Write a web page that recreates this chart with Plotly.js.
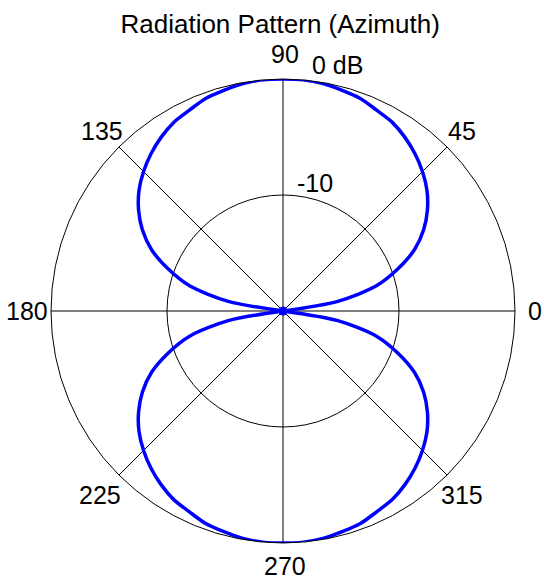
<!DOCTYPE html>
<html>
<head>
<meta charset="utf-8">
<script src="https://cdn.plot.ly/plotly-3.0.1.min.js"></script>
<style>html,body{margin:0;padding:0;background:#fff;}#chart{width:544px;height:582px;}</style>
</head>
<body>
<div id="chart"></div>
<script>
const angleDeg = [0,5,10,15,20,25,30,35,40,45,50,55,60,65,70,75,80,85,90,95,100,105,110,115,120,125,130,135,140,145,150,155,160,165,170,175,
  180,185,190,195,200,205,210,215,220,225,230,235,240,245,250,255,260,265,270,275,280,285,290,295,300,305,310,315,320,325,330,335,340,345,350,355,360];
const gainDb = [-20,-20,-15.2,-11.7,-9.5,-7.5,-6.0,-4.8,-3.8,-3.0,-2.3,-1.7,-1.2,-0.9,-0.5,-0.3,-0.1,0,0,0,-0.1,-0.3,-0.5,-0.9,-1.2,-1.7,-2.3,-3.0,-3.8,-4.8,-6.0,-7.5,-9.5,-11.7,-15.2,-20,
  -20,-20,-15.2,-11.7,-9.5,-7.5,-6.0,-4.8,-3.8,-3.0,-2.3,-1.7,-1.2,-0.9,-0.5,-0.3,-0.1,0,0,0,-0.1,-0.3,-0.5,-0.9,-1.2,-1.7,-2.3,-3.0,-3.8,-4.8,-6.0,-7.5,-9.5,-11.7,-15.2,-20,-20];
const angleTicks = [0,45,90,135,180,225,270,315];
const angleTickText = ['0','45','90','135','180','225','270','315'];
const radialTicks = [-10, 0];
const radialTickText = ['-10', '0 dB'];

// label placement (paper coordinates) – layout only
const angLabelPos = [[1.043,0.5],[0.886,0.888],[0.504,1.054],[0.110,0.888],[-0.052,0.5],[0.106,0.103],[0.504,-0.0496],[0.886,0.103]];
const radLabelPos = [[0.526,0.776],[0.558,1.030]];

const trace = {
  type: 'scatterpolar',
  mode: 'lines',
  theta: angleDeg,
  r: gainDb,
  line: {color: '#0000ff', width: 3.5, shape: 'spline', smoothing: 0.8},
  hoverinfo: 'skip'
};
const centreDot = {
  type: 'scatterpolar',
  mode: 'markers',
  theta: [0],
  r: [-20],
  marker: {color: '#0000ff', size: 9},
  hoverinfo: 'skip'
};

const FONT = 'Liberation Sans, Arial, sans-serif';
const annotations = [];
angleTickText.forEach((t, i) => annotations.push({
  text: t, xref: 'paper', yref: 'paper', x: angLabelPos[i][0], y: angLabelPos[i][1],
  xanchor: 'center', yanchor: 'middle', showarrow: false, font: {size: 25, color: '#000'}
}));
radialTickText.forEach((t, i) => annotations.push({
  text: t, xref: 'paper', yref: 'paper', x: radLabelPos[i][0], y: radLabelPos[i][1],
  xanchor: 'left', yanchor: 'middle', showarrow: false, font: {size: 25, color: '#000'}
}));

const layout = {
  width: 544, height: 582,
  margin: {l: 51, r: 29, t: 79, b: 39},
  paper_bgcolor: '#fff',
  font: {family: FONT, size: 25, color: '#000'},
  title: {text: 'Radiation Pattern (Azimuth)', x: 0.515, xanchor: 'center', y: 0.959, yanchor: 'middle',
          font: {size: 26, color: '#000'}},
  showlegend: false,
  polar: {
    bgcolor: '#fff',
    domain: {x: [0, 1], y: [0, 1]},
    radialaxis: {
      range: [-20, 0],
      tickvals: radialTicks,
      ticktext: radialTickText,
      showticklabels: false,
      angle: 90,
      showline: false,
      ticks: '',
      gridcolor: '#000',
      gridwidth: 1
    },
    angularaxis: {
      rotation: 0,
      direction: 'counterclockwise',
      tickvals: angleTicks,
      ticktext: angleTickText,
      showticklabels: false,
      showline: true,
      linecolor: '#000',
      linewidth: 1,
      gridcolor: '#000',
      gridwidth: 1,
      ticks: ''
    }
  },
  annotations: annotations
};

Plotly.newPlot('chart', [trace, centreDot], layout, {displayModeBar: false, staticPlot: true});
</script>
</body>
</html>
